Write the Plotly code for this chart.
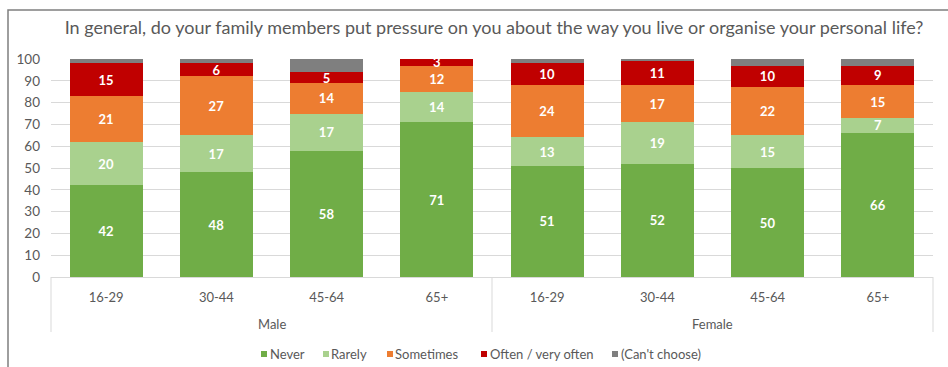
import plotly.graph_objects as go

# Survey answers (%), by sex and age band
sexes = ["Male"] * 4 + ["Female"] * 4
ages = ["16-29", "30-44", "45-64", "65+"] * 2
groups = ["Male", "Female"]

never = [42, 48, 58, 71, 51, 52, 50, 66]
rarely = [20, 17, 17, 14, 13, 19, 15, 7]
sometimes = [21, 27, 14, 12, 24, 17, 22, 15]
often = [15, 6, 5, 3, 10, 11, 10, 9]
cant_choose = [2, 2, 6, 0, 2, 1, 3, 3]

series_names = ["Never", "Rarely", "Sometimes", "Often / very often", "(Can't choose)"]
series_values = [never, rarely, sometimes, often, cant_choose]
series_colors = ["#70AD47", "#A9D18E", "#ED7D31", "#C00000", "#7F7F7F"]
series_labelled = [True, True, True, True, False]

FONT = "Lato"
GREY_TEXT = "#595959"
LINE_GREY = "#D9D9D9"

W, H = 948, 367
L, R, T, B = 51, 15, 59, 90
PW, PH = W - L - R, H - T - B


def px_x(x):
    """Pixel column -> paper x."""
    return (x - L) / PW


def px_y(y):
    """Pixel row -> paper y."""
    return (H - B - y) / PH


keys = [f"{s} {a}" for s, a in zip(sexes, ages)]

fig = go.Figure()
for name, vals, color, labelled in zip(series_names, series_values, series_colors, series_labelled):
    fig.add_trace(go.Bar(
        name=name,
        x=keys,
        y=vals,
        marker=dict(color=color, line=dict(width=0)),
        text=[str(v) for v in vals] if labelled else None,
        textposition="inside" if labelled else "none",
        insidetextanchor="middle",
        textangle=0,
        textfont=dict(family=FONT, size=13, color="white", weight="bold"),
        constraintext="none",
        cliponaxis=False,
        showlegend=False,
    ))

fig.update_layout(
    barmode="stack",
    bargap=0.34,
    width=W,
    height=H,
    margin=dict(l=L, r=R, t=T, b=B, autoexpand=False),
    paper_bgcolor="white",
    plot_bgcolor="white",
    font=dict(family=FONT, size=13, color=GREY_TEXT),
    uniformtext=dict(minsize=13, mode="show"),
    showlegend=False,
    title=dict(
        text="In general, do your family members put pressure on you about the way you live or organise your personal life?",
        x=(65 + 923) / 2 / W, xanchor="center", xref="container",
        y=1 - 28 / H, yanchor="middle", yref="container",
        font=dict(family=FONT, size=18, color=GREY_TEXT),
    ),
)

fig.update_yaxes(
    range=[0, 100],
    dtick=10,
    showgrid=True,
    gridcolor=LINE_GREY,
    gridwidth=1,
    zeroline=False,
    showline=False,
    ticks="",
    ticklabelstandoff=10,
    automargin=False,
    tickfont=dict(family=FONT, size=13.5, color=GREY_TEXT),
)

fig.update_xaxes(
    type="category",
    tickvals=keys,
    ticktext=ages,
    showline=True,
    linecolor=LINE_GREY,
    linewidth=1,
    showgrid=False,
    ticks="",
    ticklabelstandoff=8,
    automargin=False,
    tickfont=dict(family=FONT, size=13, color=GREY_TEXT),
)

# Group labels and dividers under the age bands
n_groups = len(groups)
for i, g in enumerate(groups):
    fig.add_annotation(
        text=g, xref="paper", yref="paper",
        x=(i + 0.5) / n_groups, y=px_y(324),
        xanchor="center", yanchor="middle", showarrow=False,
        font=dict(family=FONT, size=13, color=GREY_TEXT),
    )
for i in range(n_groups + 1):
    fig.add_shape(
        type="line", xref="paper", yref="paper",
        x0=i / n_groups, x1=i / n_groups, y0=0, y1=px_y(332),
        line=dict(color=LINE_GREY, width=1),
    )

# Legend row
legend_square_x = [261, 323, 387, 481, 612]
legend_text_x = [268, 329, 393, 488, 619]
legend_y = 354
for name, color, sx, tx in zip(series_names, series_colors, legend_square_x, legend_text_x):
    fig.add_shape(
        type="rect", xref="paper", yref="paper",
        x0=px_x(sx), x1=px_x(sx + 6), y0=px_y(legend_y + 3), y1=px_y(legend_y - 3),
        line=dict(width=0), fillcolor=color,
    )
    fig.add_annotation(
        text=name, xref="paper", yref="paper",
        x=px_x(tx), y=px_y(legend_y), xanchor="left", yanchor="middle",
        showarrow=False, font=dict(family=FONT, size=13, color=GREY_TEXT),
    )

# Frame around the whole chart
fig.add_shape(
    type="rect", xref="paper", yref="paper",
    x0=px_x(8), x1=px_x(952),
    y0=px_y(372), y1=px_y(10),
    line=dict(color="#7F7F7F", width=1.5),
    fillcolor="rgba(0,0,0,0)",
    layer="below",
)

fig.write_html("out.html")
